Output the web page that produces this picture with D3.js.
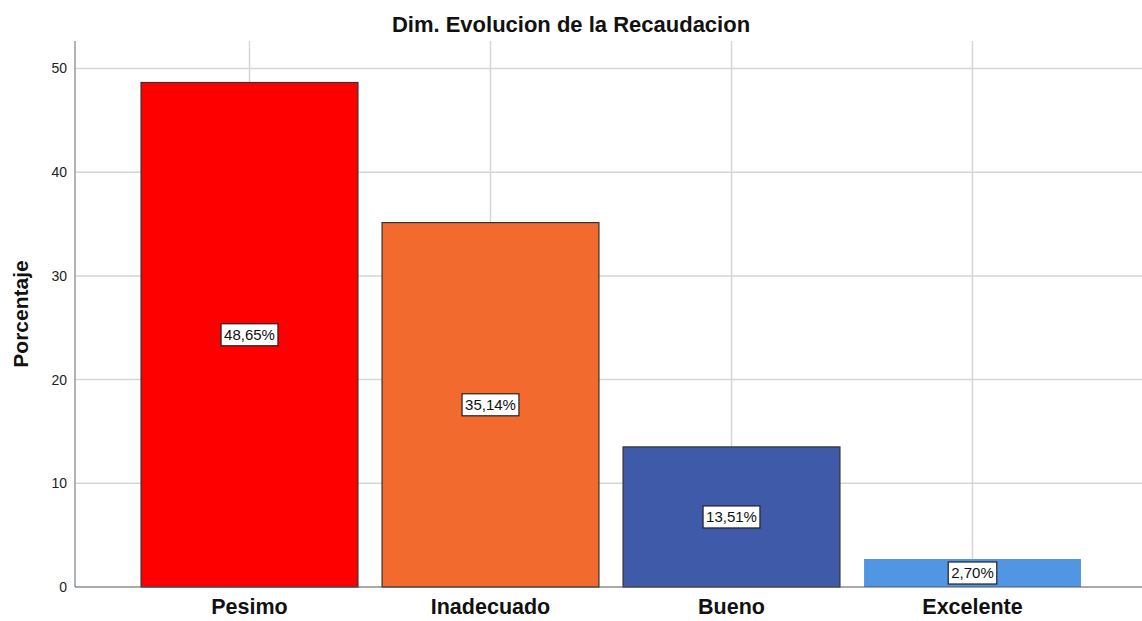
<!DOCTYPE html>
<html><head><meta charset="utf-8">
<script src="https://cdn.jsdelivr.net/npm/d3@7"></script>
<style>body{margin:0;background:#fff}svg{display:block;font-family:Arial,"Liberation Sans",sans-serif}</style>
</head><body><svg id="c" width="1142" height="621"></svg>
<script>
const categories = ["Pesimo", "Inadecuado", "Bueno", "Excelente"];
const percentages = [48.65, 35.14, 13.51, 2.70];
const valueLabels = ["48,65%", "35,14%", "13,51%", "2,70%"];
const barColors = ["#ff0000", "#f26a2d", "#3f5aa8", "#5196e3"];
const barStrokes = ["#333333", "#333333", "#333333", "none"];
const yTicks = [0, 10, 20, 30, 40, 50];
const title = "Dim. Evolucion de la Recaudacion";
const yTitle = "Porcentaje";

const svg = d3.select("#c");
const x0 = 75, x1 = 1142, yTop = 41;
const x = d3.scaleBand().domain(categories).range([129, 1093]).paddingInner(0.1).paddingOuter(0.05);
const y = d3.scaleLinear().domain([0, 50]).range([587, 68.5]);

// horizontal grid
svg.append("g").selectAll("line").data(yTicks.slice(1)).join("line")
  .attr("x1", x0).attr("x2", x1).attr("y1", d => y(d)).attr("y2", d => y(d))
  .attr("stroke", "#d6d6d6").attr("stroke-width", 1.5);
// vertical grid
svg.append("g").selectAll("line").data(categories).join("line")
  .attr("x1", d => x(d) + x.bandwidth() / 2).attr("x2", d => x(d) + x.bandwidth() / 2)
  .attr("y1", yTop).attr("y2", y(0))
  .attr("stroke", "#d6d6d6").attr("stroke-width", 1.5);

// bars
svg.append("g").selectAll("rect").data(categories).join("rect")
  .attr("x", d => x(d)).attr("width", x.bandwidth())
  .attr("y", (d, i) => y(percentages[i])).attr("height", (d, i) => y(0) - y(percentages[i]))
  .attr("fill", (d, i) => barColors[i])
  .attr("stroke", (d, i) => barStrokes[i]).attr("stroke-width", 1.2);

// axes lines
svg.append("line").attr("x1", x0).attr("x2", x0).attr("y1", yTop).attr("y2", y(0))
  .attr("stroke", "#9a9a9a").attr("stroke-width", 1.5);
svg.append("line").attr("x1", x0).attr("x2", x1).attr("y1", y(0)).attr("y2", y(0))
  .attr("stroke", "#555").attr("stroke-width", 1.2);

// y axis via d3 axis, styled
const yAxis = svg.append("g").attr("transform", `translate(${x0},0)`)
  .call(d3.axisLeft(y).tickValues(yTicks).tickSize(0).tickPadding(8).tickFormat(d3.format("d")));
yAxis.select(".domain").remove();
yAxis.selectAll("text").attr("font-size", 14).attr("fill", "#222").attr("font-family", "Arial, 'Liberation Sans', sans-serif");

// x axis labels
const xAxis = svg.append("g").attr("transform", `translate(0,${y(0)})`)
  .call(d3.axisBottom(x).tickSize(0).tickPadding(12));
xAxis.select(".domain").remove();
xAxis.selectAll("text").attr("font-size", 21.5).attr("font-weight", "bold").attr("fill", "#111")
  .attr("font-family", "Arial, 'Liberation Sans', sans-serif");

// value labels
const lg = svg.append("g").selectAll("g").data(categories).join("g")
  .attr("transform", (d, i) => `translate(${x(d) + x.bandwidth() / 2},${y(percentages[i] / 2)})`);
lg.append("text").text((d, i) => valueLabels[i])
  .attr("text-anchor", "middle").attr("dy", "0.36em").attr("font-size", 15).attr("fill", "#111");
lg.each(function () {
  const g = d3.select(this);
  const bb = g.select("text").node().getBBox();
  g.insert("rect", "text").attr("x", bb.x - 3).attr("y", -11).attr("width", bb.width + 6).attr("height", 22)
    .attr("fill", "#fff").attr("stroke", "#222").attr("stroke-width", 1.2);
});

// title
svg.append("text").attr("x", 571).attr("y", 32).attr("text-anchor", "middle")
  .attr("font-size", 22).attr("font-weight", "bold").attr("fill", "#111").text(title);
// y title
svg.append("text").attr("transform", "translate(28,314) rotate(-90)").attr("text-anchor", "middle")
  .attr("font-size", 21).attr("font-weight", "bold").attr("fill", "#111").text(yTitle);
</script></body></html>
